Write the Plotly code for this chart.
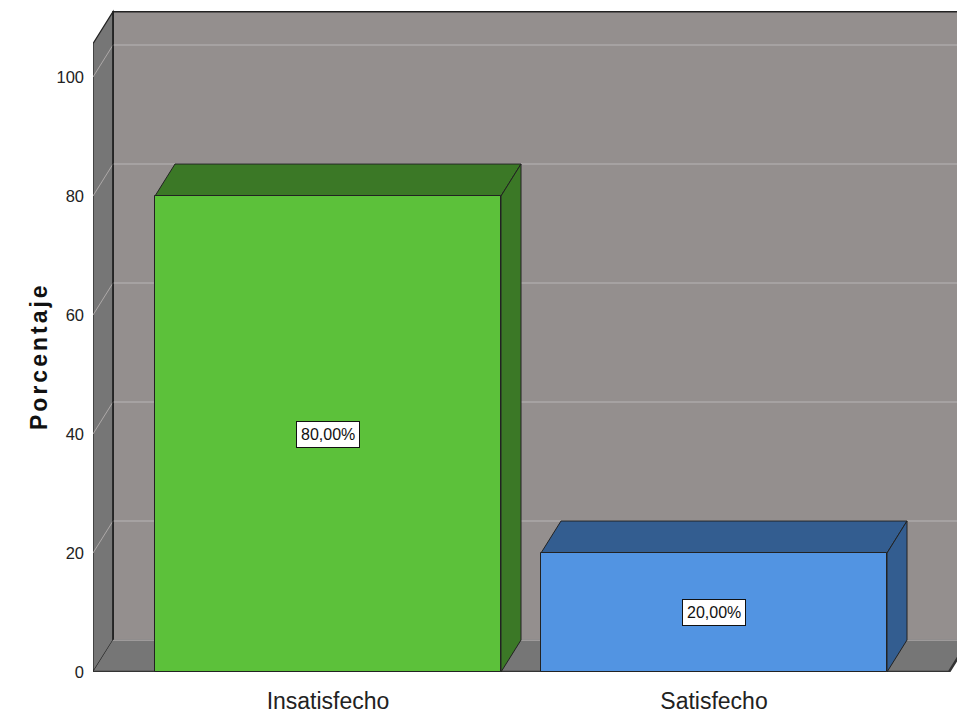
import plotly.graph_objects as go

# ---- data ----
categories = ["Insatisfecho", "Satisfecho"]
percentages = [80.0, 20.0]
labels = ["80,00%", "20,00%"]
front_colors = ["#5CC13A", "#5294E2"]
dark_colors = ["#3B7826", "#335D90"]
y_ticks = [0, 20, 40, 60, 80, 100]

# ---- geometry (data units) ----
W, H = 957, 717
ML, MR, MT, MB = 93, 0, 6, 45
plot_w = W - ML - MR
plot_h = H - MT - MB
px_per_unit_y = 5.95
cat_px = 386.0
y_max = plot_h / px_per_unit_y
x_min = -235.0 / cat_px
x_max = x_min + plot_w / cat_px
DX = 20.0 / cat_px          # depth offset in x
DY = 32.0 / px_per_unit_y   # depth offset in y
bar_w = 346.0 / cat_px
wall_top = 105.6
n = len(categories)
x_floor_end = (n - 1) - x_min

wall_gray = "#948F8E"
side_gray = "#767676"
grid_col = "#ADA9A8"
edge = "#222222"

shapes = []

def poly(pts, fill, line_color=edge, line_w=1):
    path = "M " + " L ".join(f"{x},{y}" for x, y in pts) + " Z"
    return dict(type="path", path=path, xref="x", yref="y", fillcolor=fill,
                line=dict(color=line_color, width=line_w), layer="below")

# back wall
shapes.append(poly([(x_min + DX, DY), (x_max + 1, DY), (x_max + 1, wall_top + DY),
                    (x_min + DX, wall_top + DY)], wall_gray, edge, 1.5))
# left wall
shapes.append(poly([(x_min, 0), (x_min, wall_top), (x_min + DX, wall_top + DY),
                    (x_min + DX, DY)], side_gray, edge, 1.2))
# floor
shapes.append(poly([(x_min, 0), (x_floor_end, 0), (x_floor_end + DX, DY),
                    (x_min + DX, DY)], side_gray, side_gray, 0))
# floor front edge
shapes.append(dict(type="path", xref="x", yref="y", layer="below",
                   path=f"M {x_min},0 L {x_floor_end},0 L {x_floor_end + DX},{DY}",
                   line=dict(color="#333333", width=2.5)))
# floor back edge (light)
shapes.append(dict(type="line", xref="x", yref="y", layer="below",
                   x0=x_min + DX, x1=x_max + 1, y0=DY, y1=DY,
                   line=dict(color=grid_col, width=1.5)))
# gridlines on back wall and left wall
for t in y_ticks[1:]:
    shapes.append(dict(type="line", xref="x", yref="y", layer="below",
                       x0=x_min + DX, x1=x_max + 1, y0=t + DY, y1=t + DY,
                       line=dict(color=grid_col, width=1.5)))
    shapes.append(dict(type="line", xref="x", yref="y", layer="below",
                       x0=x_min, x1=x_min + DX, y0=t, y1=t + DY,
                       line=dict(color=grid_col, width=1)))
# redraw back-wall left edge
shapes.append(dict(type="line", xref="x", yref="y", layer="below",
                   x0=x_min + DX, x1=x_min + DX, y0=DY, y1=wall_top + DY,
                   line=dict(color=edge, width=1.5)))

# bar 3D faces
for i, v in enumerate(percentages):
    x0 = i - bar_w / 2
    x1 = i + bar_w / 2
    shapes.append(poly([(x0, v), (x1, v), (x1 + DX, v + DY), (x0 + DX, v + DY)],
                       dark_colors[i], edge, 1))
    shapes.append(poly([(x1, 0), (x1 + DX, DY), (x1 + DX, v + DY), (x1, v)],
                       dark_colors[i], edge, 1))

fig = go.Figure()
fig.add_trace(go.Bar(
    x=list(range(n)), y=percentages, width=bar_w,
    marker=dict(color=front_colors, line=dict(color=edge, width=1)),
    hoverinfo="skip", showlegend=False,
))

font_main = "Liberation Sans, Arial, sans-serif"
annotations = []
for i, v in enumerate(percentages):
    annotations.append(dict(x=i, y=v / 2, xref="x", yref="y", text=labels[i],
                            showarrow=False, bgcolor="white", bordercolor="#111111",
                            borderwidth=1, borderpad=4,
                            font=dict(family=font_main, size=16, color="#111111")))
annotations.append(dict(x=(24 - ML) / plot_w, y=(672 - 356) / plot_h,
                        xref="paper", yref="paper",
                        text='<span style="letter-spacing:3px"><b>Porcentaje</b></span>',
                        textangle=-90, showarrow=False,
                        font=dict(family=font_main, size=23, color="#111111")))

fig.update_layout(
    width=W, height=H,
    margin=dict(l=ML, r=MR, t=MT, b=MB, pad=0),
    paper_bgcolor="white", plot_bgcolor="white",
    shapes=shapes, annotations=annotations,
    bargap=0,
    xaxis=dict(range=[x_min, x_max], tickvals=list(range(n)), ticktext=categories,
               showgrid=False, zeroline=False, showline=False, ticks="",
               tickfont=dict(family=font_main, size=23, color="#222222"),
               ticklabelstandoff=13),
    yaxis=dict(range=[0, y_max], tickvals=y_ticks, showgrid=False, zeroline=False,
               showline=False, ticks="", ticklabelstandoff=8,
               tickfont=dict(family=font_main, size=16.5, color="#222222")),
)

fig.write_html("out.html")
